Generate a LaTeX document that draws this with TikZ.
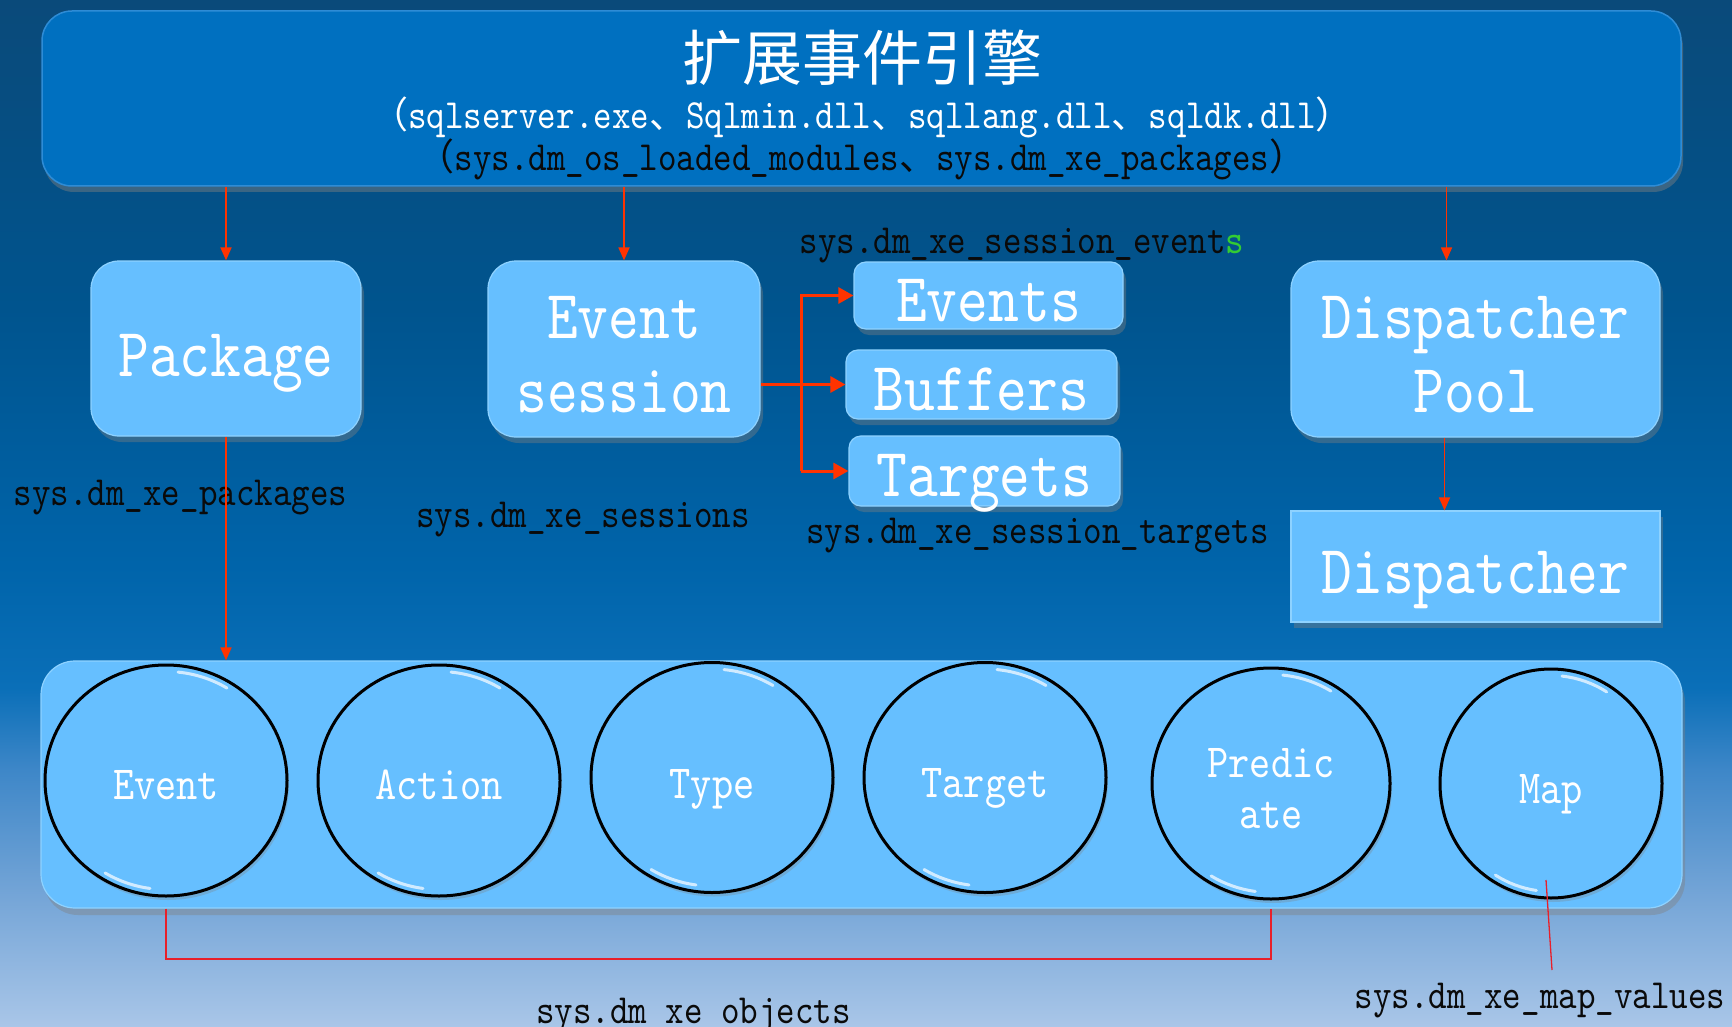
\documentclass[tikz,border=0pt]{standalone}
\usepackage{fontspec}
\newfontfamily\latf{lmmono10-regular.otf}[FakeStretch=0.85]
\newfontfamily\cjk{Noto Sans CJK SC}
\usetikzlibrary{shapes.geometric,arrows.meta,shadows,calc}
\newcommand\fsz[1]{\fontsize{#1}{#1}\selectfont}
\newcommand\cjp[1]{{\cjk\fontsize{37}{37}\selectfont #1}}
\definecolor{boxfill}{HTML}{66BFFF}
\definecolor{boxedge}{HTML}{8ED2FF}
\definecolor{titlefill}{HTML}{0070C0}
\definecolor{titleedge}{HTML}{2E8CD6}
\definecolor{arrred}{HTML}{FF3300}
\definecolor{brkred}{HTML}{E8202A}
\definecolor{txtdark}{HTML}{0A0A0A}
\definecolor{evgreen}{HTML}{33CC33}
\definecolor{bgA}{HTML}{A9C6E8}
\definecolor{bgB}{HTML}{78A7D8}
\definecolor{bgC}{HTML}{3E87C8}
\definecolor{bgD}{HTML}{0A6FB8}
\definecolor{bgE}{HTML}{0064AA}
\definecolor{bgF}{HTML}{00548E}
\definecolor{bgG}{HTML}{0A4A7A}
\pgfdeclareverticalshading{bgshade}{100bp}{color(0bp)=(bgA); color(25bp)=(bgA); color(31bp)=(bgB); color(37.5bp)=(bgC); color(41.5bp)=(bgD); color(47.5bp)=(bgE); color(60bp)=(bgF); color(75bp)=(bgG); color(100bp)=(bgG)}
\begin{document}
\begin{tikzpicture}[x=1pt,y=-1pt,
  tbox/.style={rectangle, rounded corners=30pt, fill=titlefill, draw=titleedge, line width=1.5pt,
    drop shadow={shadow xshift=2pt, shadow yshift=-6pt, opacity=0.45}, inner sep=0},
  rbox/.style={rectangle, rounded corners=28pt, fill=boxfill, draw=boxedge, line width=1.2pt,
    drop shadow={shadow xshift=3pt, shadow yshift=-6pt, opacity=0.4}, inner sep=0},
  sbox/.style={rectangle, rounded corners=12pt, fill=boxfill, draw=boxedge, line width=1.2pt,
    drop shadow={shadow xshift=3pt, shadow yshift=-6pt, opacity=0.4}, inner sep=0},
  qbox/.style={rectangle, fill=boxfill, draw=boxedge, line width=1.2pt,
    drop shadow={shadow xshift=3pt, shadow yshift=-6pt, opacity=0.4}, inner sep=0},
  cbox/.style={rectangle, rounded corners=34pt, fill=boxfill, draw=boxedge, line width=1.2pt,
    drop shadow={shadow xshift=3pt, shadow yshift=-7pt, opacity=0.4}, inner sep=0},
  obj/.style={ellipse, fill=boxfill, draw=black, line width=3pt, inner sep=0,
    drop shadow={shadow xshift=2pt, shadow yshift=-4pt, opacity=0.3}},
  gloss/.style={draw=white, opacity=0.7, line width=3pt, line cap=round},
  wlab/.style={text=white, inner sep=0, anchor=base, font=\latf\fsz{69}},
  elab/.style={text=white, inner sep=0, anchor=base, font=\latf\fsz{47.5}},
  klab/.style={text=txtdark, inner sep=0, anchor=base, font=\latf\fsz{41.5}},
  arr/.style={draw=arrred, line width=1.8pt, -{Triangle[length=13pt,width=11pt]}},
  barr/.style={draw=arrred, line width=3pt, -{Triangle[length=15pt,width=16pt]}},
  brk/.style={draw=brkred, line width=2.4pt},
  thinred/.style={draw=brkred, line width=1.3pt}]
\useasboundingbox (0,0) rectangle (1732,1027);
\shade[shading=bgshade] (0,0) rectangle (1732,1027);

% title
\node[tbox, minimum width=1639pt, minimum height=175pt] (title) at (861.5,98.5) {};
\node[text=white, inner sep=0, anchor=base, font=\cjk\fsz{60}] (t1) at (862,81) {扩展事件引擎};
\node[text=white, inner sep=0, anchor=base, font=\latf\fsz{41.5}] (t2) at (862,129)
  {\cjp{（}sqlserver.exe\cjp{、}Sqlmin.dll\cjp{、}sqllang.dll\cjp{、}sqldk.dll\cjp{）}};
\node[text=txtdark, inner sep=0, anchor=base, font=\latf\fsz{41.5}] (t3) at (862,171)
  {\cjp{（}sys.dm\_os\_loaded\_modules\cjp{、}sys.dm\_xe\_packages\cjp{）}};

% middle boxes
\node[rbox, minimum width=270pt, minimum height=175pt] (pkg) at (226,348.5) {};
\node[wlab] (pkgl) at (226,376) {Package};

\node[rbox, minimum width=272pt, minimum height=176pt] (es) at (624,349) {};
\node[wlab] (esl1) at (624,338) {Event};
\node[wlab] (esl2) at (624,412) {session};

\node[sbox, minimum width=269pt, minimum height=67pt] (ev) at (988.5,295.5) {};
\node[wlab] (evl) at (988.5,321) {Events};
\node[sbox, minimum width=271pt, minimum height=69pt] (buf) at (981.5,384.5) {};
\node[wlab] (bufl) at (981.5,410) {Buffers};
\node[sbox, minimum width=271pt, minimum height=70pt] (tg) at (984.5,471) {};
\node[wlab] (tgl) at (984.5,496) {Targets};

\node[rbox, minimum width=369pt, minimum height=176pt] (dpool) at (1475.5,349) {};
\node[wlab] (dpl1) at (1475.5,338) {Dispatcher};
\node[wlab] (dpl2) at (1475.5,412) {Pool};

\node[qbox, minimum width=369pt, minimum height=111pt] (disp) at (1475.5,566.5) {};
\node[wlab] (displ) at (1475.5,593) {Dispatcher};

% labels
\node[klab] (lpk) at (180.5,505) {sys.dm\_xe\_packages};
\node[klab] (lse) at (583,527) {sys.dm\_xe\_sessions};
\node[klab] (lsev) at (1022,253) {sys.dm\_xe\_session\_event\textcolor{evgreen}{s}};
\node[klab] (lstg) at (1037.5,543) {sys.dm\_xe\_session\_targets};

% bottom container
\node[cbox, minimum width=1641pt, minimum height=247pt] (cont) at (861.5,784.5) {};
\node[obj, minimum width=242pt, minimum height=231pt] (o1) at (166,780.5) {};
\node[obj, minimum width=242pt, minimum height=231pt] (o2) at (439,780.5) {};
\node[obj, minimum width=242pt, minimum height=230pt] (o3) at (712,777.5) {};
\node[obj, minimum width=242pt, minimum height=230pt] (o4) at (985,777.5) {};
\node[obj, minimum width=238pt, minimum height=231pt] (o5) at (1271,783.5) {};
\node[obj, minimum width=222pt, minimum height=229pt] (o6) at (1551,783.5) {};
\foreach \n/\rx/\ry in {o1/115/109, o2/115/109, o3/115/108.5, o4/115/108.5, o5/113/109, o6/105/108}{
  \draw[gloss] ($(\n.center)+(58:\rx pt and \ry pt)$) arc[start angle=58, end angle=84, x radius=\rx pt, y radius=\ry pt];
  \draw[gloss] ($(\n.center)+(238:\rx pt and \ry pt)$) arc[start angle=238, end angle=262, x radius=\rx pt, y radius=\ry pt];
}
\node[elab] (o1l) at (166,799) {Event};
\node[elab] (o2l) at (439,799) {Action};
\node[elab] (o3l) at (712,798) {Type};
\node[elab] (o4l) at (985,797) {Target};
\node[elab] (o5l1) at (1271,777) {Predic};
\node[elab] (o5l2) at (1271,828) {ate};
\node[elab] (o6l) at (1551,803) {Map};

\node[klab] (lobj) at (693.5,1023) {sys.dm\_xe\_objects};
\node[klab] (lmap) at (1540,1008) {sys.dm\_xe\_map\_values};

% connectors
\draw[arr] (title.south -| pkg.north) -- (pkg.north);
\draw[arr] (title.south -| es.north) -- (es.north);
\draw[arr] ($(title.south -| dpool.north)+(-29,0)$) -- ($(dpool.north)+(-29,0)$);
\draw[arr] ($(dpool.south)+(-31,0)$) -- ($(disp.north)+(-31,0)$);
\draw[arr] (pkg.south) -- (cont.north -| pkg.south);

\coordinate (br) at (801,384);
\draw[barr] (es.east |- buf.west) -- (buf.west);
\draw[barr] (br |- tg.west) -- (br |- ev.west) -- (ev.west);
\draw[barr] (br |- tg.west) -- (tg.west);

\coordinate (brky) at (0,959);
\draw[brk] (o1 |- cont.south) -- (o1 |- brky) -| (o5 |- cont.south);

\coordinate (mapa) at (1546,880);
\coordinate (mapb) at (1552,970);
\draw[thinred] (mapa) -- (mapb);
\end{tikzpicture}
\end{document}
